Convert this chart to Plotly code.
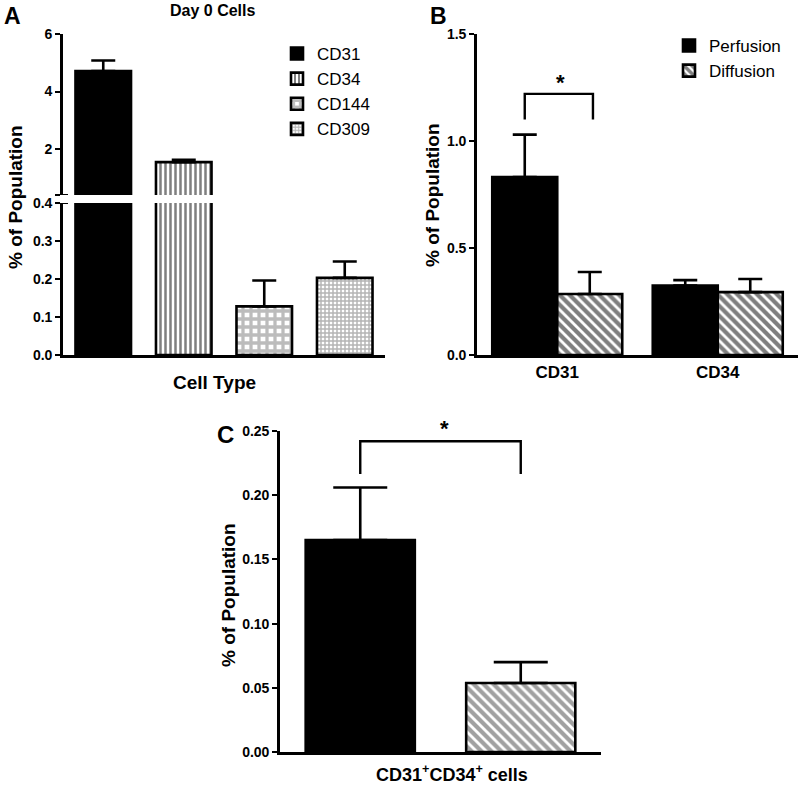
import plotly.graph_objects as go

W, H = 800, 789
FONT = "Liberation Sans, Arial, Helvetica, sans-serif"

# ---------------- data ----------------
# Panel A: Day 0 cells
a_types = ["CD31", "CD34", "CD144", "CD309"]
a_means = [4.71, 1.545, 0.128, 0.203]
a_err_plus = [0.37, 0.08, 0.068, 0.043]
a_lower_ticks = [0.0, 0.1, 0.2, 0.3, 0.4]
a_upper_ticks = [0.4, 2, 4, 6]
a_upper_ticktext = [" ", "2", "4", "6"]

# Panel B: Perfusion vs Diffusion
b_markers = ["CD31", "CD34"]
b_perf = [0.832, 0.324]
b_perf_err = [0.198, 0.026]
b_diff = [0.285, 0.294]
b_diff_err = [0.103, 0.061]
b_sig_y = [1.10, 1.22]       # bracket leg bottom / top

# Panel C: CD31+CD34+ cells
c_groups = ["Perfusion", "Diffusion"]
c_means = [0.165, 0.0537]
c_err_plus = [0.041, 0.0163]
c_sig_y = [0.2165, 0.242]

# ---------------- styles ----------------
a_patterns = {
    "CD31": dict(shape=""),
    "CD34": dict(shape="|", fgcolor="black", bgcolor="white", size=5, solidity=0.5),
    "CD144": dict(shape="+", fgcolor="#7a7a7a", bgcolor="white", size=8, solidity=0.65),
    "CD309": dict(shape="+", fgcolor="#6a6a6a", bgcolor="white", size=4, solidity=0.6),
}
a_colors = {"CD31": "black", "CD34": "white", "CD144": "white", "CD309": "white"}
diff_pattern = dict(shape="\\", fgcolor="black", bgcolor="white", size=7, solidity=0.6)


def fx(p):
    return p / W


def fy(p):
    return 1 - p / H


# pixel domains
A_X = [fx(63), fx(385)]
A_YL = [fy(355), fy(203)]
A_YU = [fy(195), fy(34)]
B_X = [fx(477), fx(798)]
B_Y = [fy(355), fy(34)]
C_X = [fx(280), fx(601)]
C_Y = [fy(752), fy(431)]

fig = go.Figure()
LW = 2.6
ERR = dict(type="data", symmetric=False, color="black", thickness=2.6)

# ---- Panel A ----
for i, t in enumerate(a_types):
    err = None
    if a_means[i] < a_lower_ticks[-1]:
        err = dict(ERR, array=[a_err_plus[i]], arrayminus=[0], width=12)
    fig.add_trace(go.Bar(
        x=[t], y=[a_means[i]], xaxis="x", yaxis="y", width=0.69,
        marker=dict(color=a_colors[t], line=dict(color="black", width=LW),
                    pattern=a_patterns[t]),
        error_y=err, name=t, legend="legend", showlegend=True))
    if a_means[i] > a_upper_ticks[0]:
        fig.add_trace(go.Bar(
            x=[t], y=[a_means[i]], xaxis="x", yaxis="y2", width=0.69,
            marker=dict(color=a_colors[t], line=dict(color="black", width=LW),
                        pattern=a_patterns[t]),
            error_y=dict(ERR, array=[a_err_plus[i]], arrayminus=[0], width=12),
            name=t, showlegend=False))

# ---- Panel B ----
bx = list(range(len(b_markers)))
BW = 0.405
fig.add_trace(go.Bar(
    x=bx, y=b_perf, xaxis="x2", yaxis="y3", width=BW, offset=-BW,
    marker=dict(color="black", line=dict(color="black", width=LW)),
    error_y=dict(ERR, array=b_perf_err, arrayminus=[0] * len(bx), width=12),
    name="Perfusion", legend="legend2"))
fig.add_trace(go.Bar(
    x=bx, y=b_diff, xaxis="x2", yaxis="y3", width=BW, offset=0,
    marker=dict(color="white", line=dict(color="black", width=LW), pattern=diff_pattern),
    error_y=dict(ERR, array=b_diff_err, arrayminus=[0] * len(bx), width=12),
    name="Diffusion", legend="legend2"))
bl, br = bx[0] - BW / 2, bx[0] + BW / 2 + 0.02
fig.add_trace(go.Scatter(
    x=[bl, bl, br, br], y=[b_sig_y[0], b_sig_y[1], b_sig_y[1], b_sig_y[0]],
    xaxis="x2", yaxis="y3", mode="lines", line=dict(color="black", width=2.4),
    showlegend=False, hoverinfo="skip"))

# ---- Panel C ----
cx = list(range(len(c_groups)))
fig.add_trace(go.Bar(
    x=cx, y=c_means, xaxis="x3", yaxis="y4", width=0.68,
    marker=dict(color=["black", "white"], line=dict(color="black", width=LW),
                pattern=dict(shape=["", "\\"], fgcolor="black", bgcolor="white",
                             size=7, solidity=0.6)),
    error_y=dict(ERR, array=c_err_plus, arrayminus=[0] * len(cx), width=27),
    showlegend=False))
fig.add_trace(go.Scatter(
    x=[cx[0], cx[0], cx[1], cx[1]], y=[c_sig_y[0], c_sig_y[1], c_sig_y[1], c_sig_y[0]],
    xaxis="x3", yaxis="y4", mode="lines", line=dict(color="black", width=2.4),
    showlegend=False, hoverinfo="skip"))

# ---------------- axes ----------------
tickfont = dict(family=FONT, size=14, color="black", weight="bold")
yax = dict(showline=True, linecolor="black", linewidth=2.6, ticks="outside",
           ticklen=5, tickwidth=2, tickcolor="black", showgrid=False,
           zeroline=False, tickfont=tickfont, automargin=False)
xax = dict(showline=True, linecolor="black", linewidth=2.6, ticks="",
           showgrid=False, zeroline=False, tickfont=dict(tickfont, size=17),
           automargin=False)

LEGFONT = dict(family=FONT, size=17, color="black")
fig.update_layout(
    width=W, height=H, margin=dict(l=0, r=0, t=0, b=0, pad=0, autoexpand=False),
    paper_bgcolor="white", plot_bgcolor="white", barmode="overlay",
    font=dict(family=FONT, color="black"),
    xaxis=dict(xax, domain=A_X, anchor="y", showticklabels=False,
               categoryorder="array", categoryarray=a_types),
    yaxis=dict(yax, domain=A_YL, anchor="x", range=[0, 0.4],
               tickvals=a_lower_ticks, tickformat=".1f"),
    yaxis2=dict(yax, domain=A_YU, anchor="x", range=[0.4, 6],
                tickvals=a_upper_ticks, ticktext=a_upper_ticktext),
    xaxis2=dict(xax, domain=B_X, anchor="y3", range=[-0.5, 1.5],
                tickvals=bx, ticktext=b_markers),
    yaxis3=dict(yax, domain=B_Y, anchor="x2", range=[0, 1.5],
                tickvals=[0, 0.5, 1.0, 1.5], tickformat=".1f"),
    xaxis3=dict(xax, domain=C_X, anchor="y4", range=[-0.5, 1.5], showticklabels=False),
    yaxis4=dict(yax, domain=C_Y, anchor="x3", range=[0, 0.25],
                tickvals=[0, 0.05, 0.10, 0.15, 0.20, 0.25], tickformat=".2f"),
    legend=dict(x=fx(277), y=fy(36), xanchor="left", yanchor="top",
                font=LEGFONT, bgcolor="rgba(0,0,0,0)", tracegroupgap=0,
                traceorder="normal"),
    legend2=dict(x=fx(669), y=fy(28), xanchor="left", yanchor="top",
                 font=LEGFONT, bgcolor="rgba(0,0,0,0)", tracegroupgap=0,
                 traceorder="normal"),
)

# broken-axis caps in panel A
for yref, yv in (("y2", a_upper_ticks[0]), ("y", a_lower_ticks[-1])):
    fig.add_shape(type="line", xref="paper", yref=yref,
                  x0=A_X[0] - fx(5), x1=A_X[0] + fx(5), y0=yv, y1=yv,
                  line=dict(color="black", width=2))


# ---------------- text ----------------
def ann(text, x, y, size, bold=True, angle=0, yanchor="middle"):
    fig.add_annotation(text=text, x=x, y=y, xref="paper", yref="paper",
                       xanchor="center", yanchor=yanchor,
                       showarrow=False, textangle=angle,
                       font=dict(family=FONT, size=size, color="black",
                                 weight="bold" if bold else "normal"))


ann("A", fx(12), fy(16), 23)
ann("B", fx(439), fy(16), 23)
ann("C", fx(225), fy(434), 24)
ann("Day 0 Cells", fx(212), fy(11), 16)
ann("% of Population", fx(15), fy(197), 19, angle=-90)
ann("% of Population", fx(432), fy(195), 19, angle=-90)
ann("% of Population", fx(228), fy(595), 19, angle=-90)
ann("Cell Type", fx(214), fy(382), 19)
ann("CD31<sup>+</sup>CD34<sup>+</sup> cells", fx(452), fy(787), 18, yanchor="bottom")
ann("*", fx(560), fy(82), 22)
ann("*", fx(444), fy(428), 22)

fig.write_html("out.html", config={"displayModeBar": False},
               post_script="document.body.style.margin='0';")
